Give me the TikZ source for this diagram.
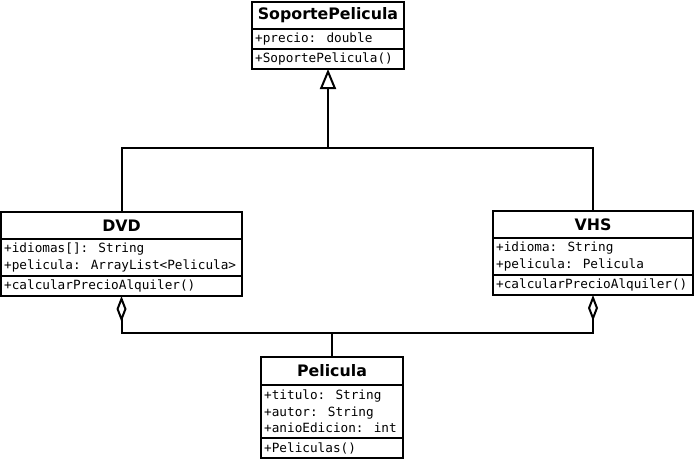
\documentclass[tikz,border=0pt]{standalone}
\usepackage{fontspec}
\setmainfont{DejaVu Sans}
\newfontfamily\umlmono{DejaVu Sans Mono}
\usetikzlibrary{arrows.meta}
\begin{document}
\begin{tikzpicture}[x=1pt,y=-1pt,
  part/.style={draw, line width=2pt, inner sep=0pt, outer sep=0pt, anchor=north west},
  ctitle/.style={part, font=\fontsize{15.8}{18}\bfseries\selectfont},
  member/.style={font=\umlmono\fontsize{12.7}{16.5}\selectfont, anchor=west, inner sep=0pt, align=left},
  conn/.style={line width=2pt},
  gen/.style={conn, -{Triangle[open, length=20pt, width=16pt]}},
  agg/.style={conn, {Diamond[open, length=26pt, width=10pt]}-{Diamond[open, length=26pt, width=10pt]}}
]
\useasboundingbox (0,0) rectangle (698,460);

% SoportePelicula
\node[ctitle, minimum width=152, minimum height=27] (sp) at (252,2) {SoportePelicula};
\node[part, minimum width=152, minimum height=20] (spa) at (sp.south west) {};
\node[member] (spa1) at ([xshift=3pt]spa.west) {+precio: double};
\node[part, minimum width=152, minimum height=20] (spm) at (spa.south west) {};
\node[member] (spm1) at ([xshift=3pt]spm.west) {+SoportePelicula()};

% DVD
\node[ctitle, minimum width=241, minimum height=27] (dvd) at (1,212) {DVD};
\node[part, minimum width=241, minimum height=37] (dvda) at (dvd.south west) {};
\node[member] (dvda1) at ([xshift=3pt]dvda.west) {+idiomas[]: String\\+pelicula: ArrayList<Pelicula>};
\node[part, minimum width=241, minimum height=20] (dvdm) at (dvda.south west) {};
\node[member] (dvdm1) at ([xshift=3pt]dvdm.west) {+calcularPrecioAlquiler()};

% VHS
\node[ctitle, minimum width=200, minimum height=27] (vhs) at (493,211) {VHS};
\node[part, minimum width=200, minimum height=37] (vhsa) at (vhs.south west) {};
\node[member] (vhsa1) at ([xshift=3pt]vhsa.west) {+idioma: String\\+pelicula: Pelicula};
\node[part, minimum width=200, minimum height=20] (vhsm) at (vhsa.south west) {};
\node[member] (vhsm1) at ([xshift=3pt]vhsm.west) {+calcularPrecioAlquiler()};

% Pelicula
\node[ctitle, minimum width=142, minimum height=28] (pel) at (261,357) {Pelicula};
\node[part, minimum width=142, minimum height=53] (pela) at (pel.south west) {};
\node[member] (pela1) at ([xshift=3pt]pela.west) {+titulo: String\\+autor: String\\+anioEdicion: int};
\node[part, minimum width=142, minimum height=20] (pelm) at (pela.south west) {};
\node[member] (pelm1) at ([xshift=3pt]pelm.west) {+Peliculas()};

% generalization
\coordinate (g) at (spm.south |- 0,148);
\draw[conn] (dvd.north) |- (g) -| (vhs.north);
\draw[gen] (g) -- (spm.south);

% aggregation
\coordinate (a) at (pel.north |- 0,333);
\draw[agg] (dvdm.south) |- (a) -| (vhsm.south);
\draw[conn] (a) -- (pel.north);
\end{tikzpicture}
\end{document}
